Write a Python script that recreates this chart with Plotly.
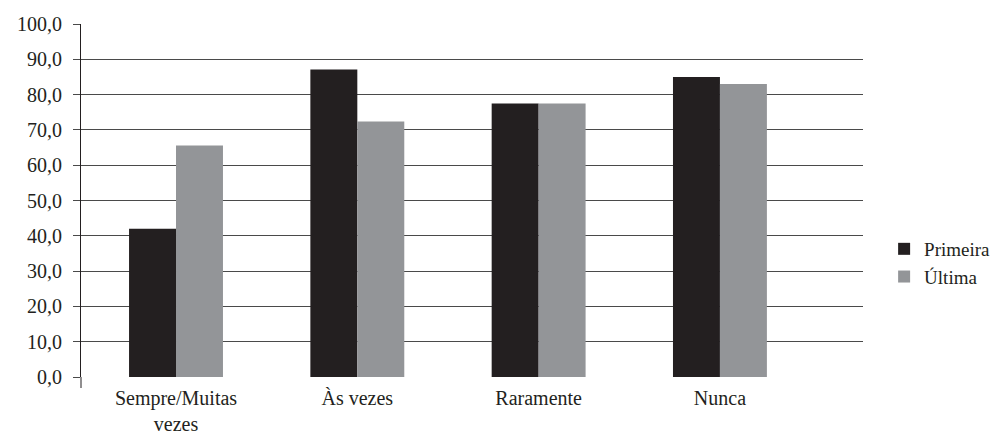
import plotly.graph_objects as go

categories = ["Sempre/Muitas<br>vezes", "Às vezes", "Raramente", "Nunca"]
primeira = [42.0, 87.1, 77.5, 85.0]
ultima = [65.6, 72.4, 77.5, 83.0]
y_ticks = [0, 10, 20, 30, 40, 50, 60, 70, 80, 90, 100]

FONT = "Liberation Serif, Times New Roman, serif"
TEXT = "#231f20"

fig = go.Figure()
fig.add_trace(go.Bar(name="Primeira", x=categories, y=primeira,
                     marker=dict(color="#231f20", line=dict(width=0))))
fig.add_trace(go.Bar(name="Última", x=categories, y=ultima,
                     marker=dict(color="#939598", line=dict(width=0))))

fig.update_layout(
    width=993, height=434,
    margin=dict(l=81, r=130, t=24, b=57, autoexpand=False),
    paper_bgcolor="white", plot_bgcolor="white",
    barmode="group", bargap=0.482, bargroupgap=0,
    separators=",.",
    font=dict(family=FONT, size=20, color=TEXT),
    legend=dict(x=1.027, y=0.323, xanchor="left", yanchor="middle",
                font=dict(family=FONT, size=19, color=TEXT),
                itemwidth=30, tracegroupgap=0),
    showlegend=True,
)
fig.update_xaxes(
    range=[-0.524, 3.789], showgrid=False, zeroline=False, showline=False,
    ticks="", ticklabelstandoff=7,
    tickfont=dict(family=FONT, size=20, color=TEXT),
)
fig.update_yaxes(
    range=[0, 100], tickvals=y_ticks, tickformat=".1f",
    showgrid=True, gridcolor="#4a4a4a", gridwidth=1,
    zeroline=False, showline=True, linecolor="#231f20", linewidth=1,
    ticks="outside", ticklen=7, tickcolor="#4a4a4a", tickwidth=1,
    ticklabelstandoff=7,
    tickfont=dict(family=FONT, size=20, color=TEXT),
)
# y-axis line continues a little below the baseline
fig.add_shape(type="line", xref="paper", yref="paper",
              x0=0, x1=0, y0=0, y1=-11 / 353,
              line=dict(color="#231f20", width=1))

fig.write_html("out.html")
